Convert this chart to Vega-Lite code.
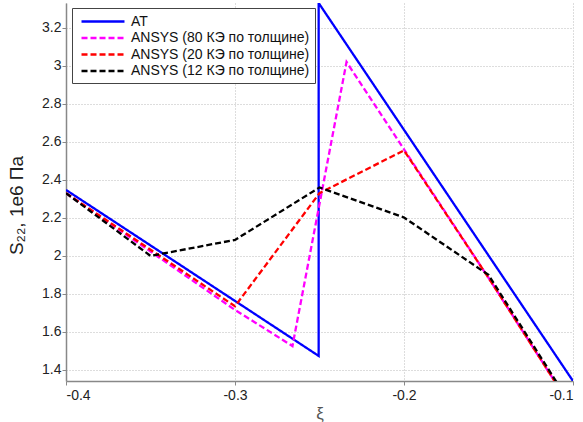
{
  "$schema": "https://vega.github.io/schema/vega-lite/v6.json",
  "width": 507,
  "height": 378,
  "autosize": "none",
  "padding": {"left": 66, "top": 3, "right": 10, "bottom": 41},
  "background": "white",
  "config": {
    "view": {"stroke": null},
    "font": "Liberation Sans"
  },
  "data": {
    "values": [
      {"series": "AT", "i": 1, "x": -0.4, "y": 2.347},
      {"series": "AT", "i": 2, "x": -0.2505, "y": 1.474},
      {"series": "AT", "i": 3, "x": -0.2505, "y": 3.33},
      {"series": "AT", "i": 4, "x": -0.1, "y": 1.342},
      {"series": "ANSYS (80 КЭ по толщине)", "i": 1, "x": -0.4, "y": 2.33},
      {"series": "ANSYS (80 КЭ по толщине)", "i": 2, "x": -0.3, "y": 1.716},
      {"series": "ANSYS (80 КЭ по толщине)", "i": 3, "x": -0.266, "y": 1.526},
      {"series": "ANSYS (80 КЭ по толщине)", "i": 4, "x": -0.234, "y": 3.02},
      {"series": "ANSYS (80 КЭ по толщине)", "i": 5, "x": -0.2, "y": 2.56},
      {"series": "ANSYS (80 КЭ по толщине)", "i": 6, "x": -0.15, "y": 1.885},
      {"series": "ANSYS (80 КЭ по толщине)", "i": 7, "x": -0.1, "y": 1.19},
      {"series": "ANSYS (20 КЭ по толщине)", "i": 1, "x": -0.4, "y": 2.33},
      {"series": "ANSYS (20 КЭ по толщине)", "i": 2, "x": -0.3, "y": 1.735},
      {"series": "ANSYS (20 КЭ по толщине)", "i": 3, "x": -0.25, "y": 2.33},
      {"series": "ANSYS (20 КЭ по толщине)", "i": 4, "x": -0.2, "y": 2.555},
      {"series": "ANSYS (20 КЭ по толщине)", "i": 5, "x": -0.15, "y": 1.885},
      {"series": "ANSYS (20 КЭ по толщине)", "i": 6, "x": -0.1, "y": 1.19},
      {"series": "ANSYS (12 КЭ по толщине)", "i": 1, "x": -0.4, "y": 2.33},
      {"series": "ANSYS (12 КЭ по толщине)", "i": 2, "x": -0.35, "y": 2.0},
      {"series": "ANSYS (12 КЭ по толщине)", "i": 3, "x": -0.3, "y": 2.084},
      {"series": "ANSYS (12 КЭ по толщине)", "i": 4, "x": -0.25, "y": 2.36},
      {"series": "ANSYS (12 КЭ по толщине)", "i": 5, "x": -0.2, "y": 2.202},
      {"series": "ANSYS (12 КЭ по толщине)", "i": 6, "x": -0.15, "y": 1.9},
      {"series": "ANSYS (12 КЭ по толщине)", "i": 7, "x": -0.1, "y": 1.2}
    ]
  },
  "mark": {"type": "line", "clip": true},
  "encoding": {
    "x": {
      "field": "x", "type": "quantitative",
      "scale": {"domain": [-0.4, -0.1], "nice": false, "zero": false},
      "axis": {
        "values": [-0.4, -0.3, -0.2, -0.1],
        "format": ".1f",
        "labelExpr": "replace(datum.label, '\u2212', '-')",
        "title": "ξ",
        "titleFont": "Liberation Sans", "titleFontSize": 17, "titleFontWeight": "normal", "titleColor": "#555",
        "titlePadding": 3,
        "labelFont": "Liberation Sans", "labelFontSize": 14, "labelColor": "#222",
        "labelPadding": 3,
        "tickSize": 4, "tickColor": "#888",
        "domainColor": "#888", "domainWidth": 1.5,
        "grid": true, "gridColor": "#bbbbbb", "gridDash": [1, 2], "gridWidth": 1
      }
    },
    "y": {
      "field": "y", "type": "quantitative",
      "scale": {"domain": [1.342, 3.33], "nice": false, "zero": false},
      "axis": {
        "values": [1.4, 1.6, 1.8, 2, 2.2, 2.4, 2.6, 2.8, 3, 3.2],
        "format": "~g",
        "title": "S₂₂, 1e6 Па",
        "titleFont": "Liberation Sans", "titleFontSize": 19, "titleFontWeight": "normal", "titleColor": "#222",
        "titlePadding": 15,
        "titleY": 202,
        "labelFont": "Liberation Sans", "labelFontSize": 14, "labelColor": "#222",
        "labelPadding": 1,
        "tickSize": 4, "tickColor": "#888",
        "domainColor": "#888", "domainWidth": 1.5,
        "grid": true, "gridColor": "#bbbbbb", "gridDash": [1, 2], "gridWidth": 1
      }
    },
    "order": {"field": "i", "type": "quantitative"},
    "color": {
      "field": "series", "type": "nominal",
      "scale": {
        "domain": ["AT", "ANSYS (80 КЭ по толщине)", "ANSYS (20 КЭ по толщине)", "ANSYS (12 КЭ по толщине)"],
        "range": ["#0000ff", "#ff00ff", "#ff0000", "#000000"]
      },
      "legend": {
        "title": null,
        "orient": "none",
        "legendX": 6,
        "legendY": 5,
        "padding": 5,
        "strokeColor": "#444",
        "fillColor": "white",
        "symbolType": "M-0.57,0H5.57",
        "symbolSize": 196,
        "symbolStrokeWidth": 2.5,
        "labelOffset": 37,
        "labelFont": "Liberation Sans",
        "labelFontSize": 14,
        "labelColor": "#111",
        "rowPadding": 0.5,
        "labelLimit": 300
      }
    },
    "strokeDash": {
      "field": "series", "type": "nominal",
      "scale": {
        "domain": ["AT", "ANSYS (80 КЭ по толщине)", "ANSYS (20 КЭ по толщине)", "ANSYS (12 КЭ по толщине)"],
        "range": [[1, 0], [6, 3], [6, 3], [6, 3]]
      }
    },
    "strokeWidth": {"value": 2.3}
  }
}
